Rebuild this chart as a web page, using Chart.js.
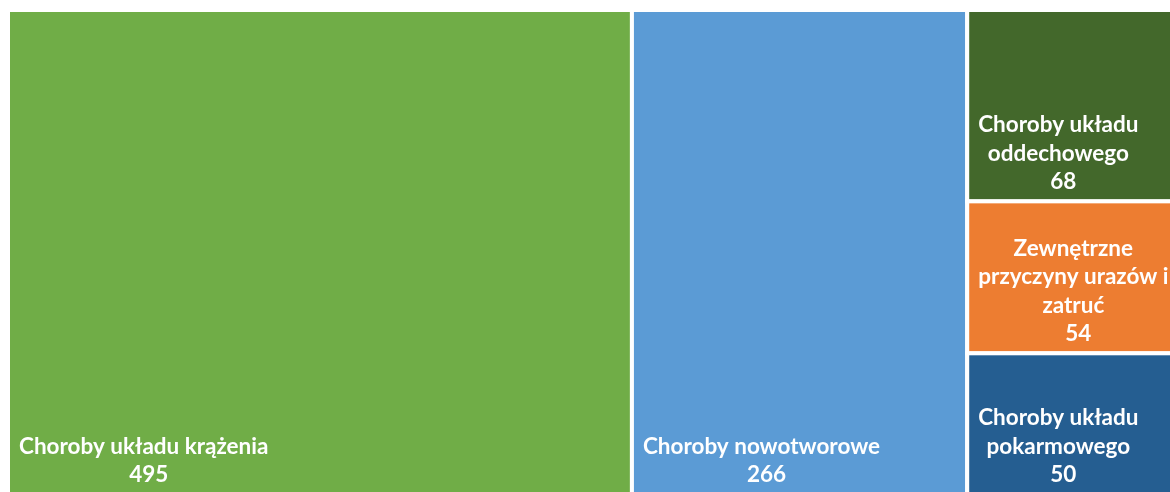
<!DOCTYPE html>
<html>
<head>
<meta charset="utf-8">
<script src="https://cdn.jsdelivr.net/npm/chart.js@4.4.1/dist/chart.umd.min.js"></script>
<style>
    html, body { margin: 0; padding: 0; background: #fff; overflow: hidden; }
    #wrap { position: absolute; left: 0; top: 0; width: 1186px; height: 496px; }
</style>
</head>
<body>
<div id="wrap"><canvas id="treeChart"></canvas></div>
<script>
// Data
const categories = ['Choroby układu krążenia', 'Choroby nowotworowe', 'Choroby układu oddechowego',
    'Zewnętrzne przyczyny urazów i zatruć', 'Choroby układu pokarmowego'];
const values = [495, 266, 68, 54, 50];
// label lines as wrapped in the original
const labelLines = [
    ['Choroby układu krążenia'],
    ['Choroby nowotworowe'],
    ['Choroby układu', 'oddechowego'],
    ['Zewnętrzne', 'przyczyny urazów i', 'zatruć'],
    ['Choroby układu', 'pokarmowego'],
];
const colors = ['#70AD47', '#5B9BD5', '#43682B', '#ED7D31', '#255E91'];

const total = values.reduce((a, b) => a + b, 0);

// squarified layout in data units (x: 0..total, y: 0..1), sx/sy = pixels per unit
function worst(row, side, sx, sy) {
    const s = row.reduce((a, it) => a + it.area * sx * sy, 0);
    const thick = s / side;
    let w = 0;
    row.forEach(it => {
        const len = it.area * sx * sy / thick;
        w = Math.max(w, thick / len, len / thick);
    });
    return w;
}

function squarify(items, x, y, w, h, sx, sy, out) {
    if (!items.length) return;
    const vertical = w * sx >= h * sy;
    const side = vertical ? h * sy : w * sx;
    let row = [], best = Infinity, i = 0;
    while (i < items.length) {
        const cand = row.concat(items[i]);
        const r = worst(cand, side, sx, sy);
        if (row.length && r > best) break;
        row = cand; best = r; i++;
    }
    const rowArea = row.reduce((a, it) => a + it.area, 0);
    if (vertical) {
        const rw = rowArea / h;
        let cy = y;
        row.forEach(it => {
            const ih = it.area / rw;
            out.push({ i: it.i, x0: x, x1: x + rw, y0: cy, y1: cy + ih });
            cy += ih;
        });
        squarify(items.slice(i), x + rw, y, w - rw, h, sx, sy, out);
    } else {
        const rh = rowArea / w;
        let cx = x;
        row.forEach(it => {
            const iw = it.area / rh;
            out.push({ i: it.i, x0: cx, x1: cx + iw, y0: y, y1: y + rh });
            cx += iw;
        });
        squarify(items.slice(i), x, y + rh, w, h - rh, sx, sy, out);
    }
}

// Plugin that draws the treemap cells through the chart scales
const treemapPlugin = {
    id: 'treemap',
    beforeDatasetsDraw(chart) {
        const xs = chart.scales.x, ys = chart.scales.y, ctx = chart.ctx;
        const sx = xs.width / total, sy = ys.height;
        const cells = [];
        squarify(values.map((v, i) => ({ i, area: v })), 0, 0, total, 1, sx, sy, cells);

        ctx.save();
        cells.forEach(c => {
            const left = xs.getPixelForValue(c.x0), right = xs.getPixelForValue(c.x1);
            const top = ys.getPixelForValue(c.y0), bottom = ys.getPixelForValue(c.y1);
            ctx.fillStyle = colors[c.i];
            ctx.fillRect(left, top, right - left, bottom - top);
            ctx.strokeStyle = '#ffffff';
            ctx.lineWidth = 4;
            ctx.strokeRect(left, top, right - left, bottom - top);

            // labels: block anchored bottom-left, lines centred in block
            ctx.font = 'bold 22.5px Lato';
            ctx.fillStyle = '#ffffff';
            ctx.textAlign = 'center';
            ctx.textBaseline = 'alphabetic';
            const lines = labelLines[c.i];
            const bw = Math.max(...lines.map(l => ctx.measureText(l).width));
            const cx = left + 11 + bw / 2;
            const lh = 28.5;
            let by = bottom - 12;
            ctx.fillText(String(values[c.i]), cx + 5, by);
            for (let k = lines.length - 1; k >= 0; k--) {
                by -= lh;
                ctx.fillText(lines[k], cx, by);
            }
        });
        ctx.restore();
    }
};

function draw() {
    const ctx = document.getElementById('treeChart').getContext('2d');
    new Chart(ctx, {
        type: 'scatter',
        data: {
            datasets: [{ label: 'Zgony', data: [], pointRadius: 0 }],
        },
        options: {
            responsive: true,
            maintainAspectRatio: false,
            animation: false,
            layout: { padding: { left: 8, right: 2, top: 10, bottom: 2 } },
            plugins: { legend: { display: false }, tooltip: { enabled: false } },
            scales: {
                x: { type: 'linear', min: 0, max: total, display: false },
                y: { type: 'linear', min: 0, max: 1, reverse: true, display: false },
            },
        },
        plugins: [treemapPlugin],
    });
}

document.fonts.load('bold 22.5px Lato').then(draw, draw);
</script>
</body>
</html>
